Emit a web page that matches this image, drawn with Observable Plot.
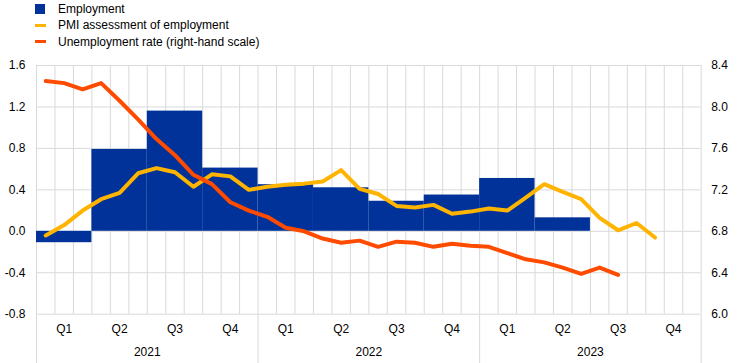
<!DOCTYPE html>
<html>
<head>
<meta charset="utf-8">
<script src="https://cdn.jsdelivr.net/npm/d3@7"></script>
<script src="https://cdn.jsdelivr.net/npm/@observablehq/plot@0.6"></script>
<style>
  body { margin: 0; background: #fff; font-family: "Liberation Sans", Arial, sans-serif; }
  #legend { position: relative; width: 744px; height: 52px; font-size: 12px; color: #000; }
  .item { position: absolute; left: 58px; line-height: 14px; white-space: nowrap; }
  .sw { position: absolute; left: 35px; }
</style>
</head>
<body>
<div id="legend"></div>
<div id="chart"></div>
<script>
// ---- data ----
const years = [2021, 2022, 2023];
const quarterLabels = ["Q1", "Q2", "Q3", "Q4"];
// Employment, quarter-on-quarter % change (2021 Q1 .. 2023 Q2)
const employment = [-0.11, 0.79, 1.16, 0.61, 0.45, 0.42, 0.29, 0.35, 0.51, 0.13];
// PMI assessment of employment, monthly (Jan 2021 .. Oct 2023)
const pmi = [-0.04, 0.06, 0.20, 0.31, 0.37, 0.56, 0.61, 0.57, 0.43, 0.55, 0.53, 0.40,
             0.43, 0.45, 0.46, 0.48, 0.59, 0.41, 0.36, 0.245, 0.23, 0.255, 0.17, 0.19,
             0.22, 0.20, 0.325, 0.455, 0.38, 0.31, 0.13, 0.01, 0.08, -0.06];
// Unemployment rate, monthly, right-hand scale (Jan 2021 .. Aug 2023)
const unemployment = [8.25, 8.23, 8.17, 8.23, 8.06, 7.88, 7.69, 7.535, 7.345, 7.255, 7.08, 7.00,
                      6.94, 6.835, 6.80, 6.73, 6.69, 6.71, 6.65, 6.70, 6.69, 6.65, 6.68, 6.66,
                      6.65, 6.59, 6.53, 6.50, 6.45, 6.39, 6.45, 6.38];
const leftTicks = [-0.8, -0.4, 0.0, 0.4, 0.8, 1.2, 1.6];
const rightOffset = 6.8; // right axis value = left axis value + 6.8

const colors = { employment: "#003299", pmi: "#FFB400", unemployment: "#FF4B00" };
const legendItems = [
  { label: "Employment", color: colors.employment, kind: "box" },
  { label: "PMI assessment of employment", color: colors.pmi, kind: "line" },
  { label: "Unemployment rate (right-hand scale)", color: colors.unemployment, kind: "line" }
];

// ---- legend ----
const leg = document.getElementById("legend");
legendItems.forEach((it, i) => {
  const cy = 8.5 + i * 16.7;
  const sw = document.createElement("div");
  sw.className = "sw";
  sw.style.background = it.color;
  if (it.kind === "box") { sw.style.width = "10px"; sw.style.height = "10px"; sw.style.top = (cy - 5) + "px"; }
  else { sw.style.width = "11px"; sw.style.height = "3px"; sw.style.top = (cy - 1.5) + "px"; }
  leg.appendChild(sw);
  const t = document.createElement("div");
  t.className = "item";
  t.textContent = it.label;
  t.style.top = (cy - 7) + "px";
  leg.appendChild(t);
});

// ---- tables ----
const bars = employment.map((v, i) => ({ x1: i * 3, x2: i * 3 + 3, v }));
const pmiData = pmi.map((v, i) => ({ m: i + 0.5, v }));
const uData = unemployment.map((v, i) => ({ m: i + 0.5, v: v - rightOffset }));
const quarterCenters = d3.range(years.length * 4).map(q => q * 3 + 1.5);
const yearCenters = years.map((y, i) => i * 12 + 6);
const grid = "#d9d9d9";

const chart = Plot.plot({
  width: 744,
  height: 311,
  marginTop: 13,
  marginBottom: 49.3,
  marginLeft: 36,
  marginRight: 43.3,
  x: { domain: [0, years.length * 12] },
  y: { domain: [-0.8, 1.6] },
  style: { fontFamily: "'Liberation Sans', Arial, sans-serif", fontSize: "12px", color: "#000", background: "#fff" },
  marks: [
    Plot.ruleY(leftTicks, { stroke: grid, strokeWidth: 1 }),
    Plot.ruleX(d3.range(years.length * 12 + 1), { y1: -0.8, y2: 1.6, stroke: grid, strokeWidth: 1 }),
    Plot.ruleX(d3.range(0, years.length * 12 + 1, 12), { y1: -0.8, y2: -1.4, stroke: grid, strokeWidth: 1 }),
    Plot.rectY(bars, { x1: "x1", x2: "x2", y1: 0, y2: "v", fill: colors.employment, inset: 0 }),
    Plot.line(pmiData, { x: "m", y: "v", stroke: colors.pmi, strokeWidth: 4 }),
    Plot.line(uData, { x: "m", y: "v", stroke: colors.unemployment, strokeWidth: 4 }),
    Plot.axisY(leftTicks, { anchor: "left", tickSize: 0, tickPadding: 11, label: null, tickFormat: d => d.toFixed(1) }),
    Plot.axisY(leftTicks, { anchor: "right", tickSize: 0, tickPadding: 10, label: null, tickFormat: d => (d + rightOffset).toFixed(1) }),
    Plot.axisX(quarterCenters, { anchor: "bottom", tickSize: 0, tickPadding: 10, label: null,
      tickFormat: d => quarterLabels[Math.floor(d / 3) % 4] }),
    Plot.axisX(yearCenters, { anchor: "bottom", tickSize: 0, tickPadding: 33, label: null,
      tickFormat: d => String(years[Math.floor(d / 12)]) })
  ]
});
document.getElementById("chart").appendChild(chart);
</script>
</body>
</html>
